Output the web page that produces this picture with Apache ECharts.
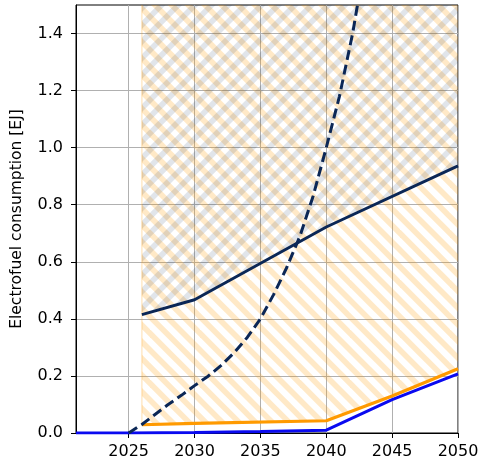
<!DOCTYPE html>
<html>
<head>
<meta charset="utf-8">
<script src="https://cdn.jsdelivr.net/npm/echarts@6/dist/echarts.min.js"></script>
<style>
  html, body { margin: 0; padding: 0; background: #fff; }
  #chart { width: 479px; height: 464px; }
</style>
</head>
<body>
<div id="chart"></div>
<script>
// Electrofuel consumption pathways (EJ)
const xTicks = [2025, 2030, 2035, 2040, 2045, 2050];
const yTicks = [0, 0.2, 0.4, 0.6, 0.8, 1.0, 1.2, 1.4];

// Exponential-growth pathway (dashed)
const dashYears = [2025, 2026, 2027, 2028, 2029, 2030, 2031, 2032, 2033, 2034, 2035,
                   2036, 2037, 2038, 2039, 2040, 2041, 2042, 2043];
const dashValues = [0, 0.03, 0.065, 0.10, 0.132, 0.166, 0.198, 0.236, 0.281, 0.335, 0.40,
                    0.485, 0.58, 0.69, 0.83, 1.00, 1.18, 1.40, 1.67];

// Upper bound (solid navy)
const upperYears = [2026, 2030, 2040, 2050];
const upperValues = [0.415, 0.467, 0.722, 0.936];

// Orange pathway
const orangeYears = [2026, 2030, 2040, 2045, 2050];
const orangeValues = [0.029, 0.034, 0.043, 0.13, 0.225];

// Blue pathway
const blueYears = [2021, 2025, 2030, 2035, 2040, 2045, 2050];
const blueValues = [0, 0, 0.002, 0.005, 0.010, 0.117, 0.207];

const NAVY = '#0b2756';
const ORANGE = '#ff9a00';
const BLUE = '#0a0af0';

function pairs(xs, ys) { return xs.map((x, i) => [x, ys[i]]); }

// Diagonal stripe tile (3 stripe periods per tile so stripes run across tile seams)
function stripeTile(color, dir, period, width) {
  const size = Math.round(period * 3);
  const c = document.createElement('canvas');
  c.width = size; c.height = size;
  const g = c.getContext('2d');
  g.strokeStyle = color;
  g.lineWidth = width;
  for (let k = -6; k <= 9; k++) {
    const x0 = k * period;
    g.beginPath();
    if (dir === 'back') {
      // "\" stripes: y = x - x0
      g.moveTo(x0 - size, -size);
      g.lineTo(x0 + 2 * size, 2 * size);
    } else {
      // "/" stripes: y = x0 - x
      g.moveTo(x0 + size, -size);
      g.lineTo(x0 - 2 * size, 2 * size);
    }
    g.stroke();
  }
  return c;
}

const HATCH_PERIOD = 50 / 3;
const orangeHatch = { image: stripeTile('rgba(255,154,0,0.22)', 'back', HATCH_PERIOD, 5.6), repeat: 'repeat' };
const navyHatch = { image: stripeTile('rgba(11,39,86,0.12)', 'fwd', HATCH_PERIOD, 5.6), repeat: 'repeat' };

const fontFamily = 'DejaVu Sans';

const chart = echarts.init(document.getElementById('chart'), null, { renderer: 'canvas' });

chart.setOption({
  animation: false,
  grid: {
    left: 76, right: 21, top: 5, bottom: 31,
    containLabel: false, outerBoundsMode: 'none',
    show: true, borderColor: '#000', borderWidth: 1, backgroundColor: 'transparent'
  },
  xAxis: {
    type: 'value', min: 2021, max: 2050,
    axisLine: { show: true, onZero: false, lineStyle: { color: '#000', width: 1 } },
    axisTick: { show: true, length: 5, lineStyle: { color: '#000' }, customValues: xTicks },
    axisLabel: {
      customValues: xTicks, color: '#000', fontFamily, fontSize: 16, margin: 11,
      formatter: v => String(v)
    },
    splitLine: { show: true, lineStyle: { color: '#b0b0b0', width: 1 } }
  },
  yAxis: {
    type: 'value', min: 0, max: 1.5,
    name: 'Electrofuel consumption [EJ]',
    nameLocation: 'middle', nameGap: 51,
    nameTextStyle: { color: '#000', fontFamily, fontSize: 15.5 },
    axisLine: { show: true, lineStyle: { color: '#000', width: 1 } },
    axisTick: { show: true, length: 5, lineStyle: { color: '#000' }, customValues: yTicks },
    axisLabel: {
      customValues: yTicks, color: '#000', fontFamily, fontSize: 16, margin: 13,
      formatter: v => v.toFixed(1)
    },
    splitLine: { show: true, lineStyle: { color: '#b0b0b0', width: 1 } }
  },
  series: [
    {
      type: 'line', name: 'orange-hatch', data: pairs(orangeYears, orangeValues),
      symbol: 'none', silent: true, z: 1,
      lineStyle: { width: 0, opacity: 0 },
      areaStyle: { origin: 'end', color: orangeHatch, opacity: 1 }
    },
    {
      type: 'line', name: 'navy-hatch', data: pairs(upperYears, upperValues),
      symbol: 'none', silent: true, z: 1,
      lineStyle: { width: 0, opacity: 0 },
      areaStyle: { origin: 'end', color: navyHatch, opacity: 1 }
    },
    {
      type: 'line', name: 'hatch-edge', data: [[orangeYears[0], orangeValues[0]], [orangeYears[0], 1.5]],
      symbol: 'none', silent: true, z: 1,
      lineStyle: { color: 'rgba(255,154,0,0.22)', width: 1.5 }
    },
    {
      type: 'line', name: 'blue', data: pairs(blueYears, blueValues),
      symbol: 'none', z: 3,
      lineStyle: { color: BLUE, width: 3 }
    },
    {
      type: 'line', name: 'orange', data: pairs(orangeYears, orangeValues),
      symbol: 'none', z: 4,
      lineStyle: { color: ORANGE, width: 3.2 }
    },
    {
      type: 'line', name: 'upper', data: pairs(upperYears, upperValues),
      symbol: 'none', z: 5,
      lineStyle: { color: NAVY, width: 3 }
    },
    {
      type: 'line', name: 'exponential', data: pairs(dashYears, dashValues),
      symbol: 'none', z: 5,
      lineStyle: { color: NAVY, width: 3, type: [10, 5] }
    }
  ]
});
</script>
</body>
</html>
